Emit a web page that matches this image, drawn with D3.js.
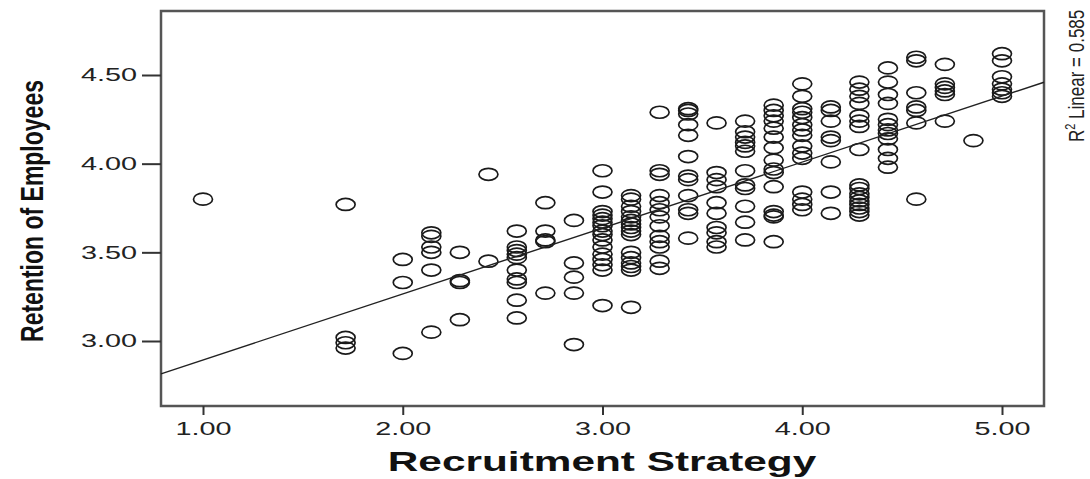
<!DOCTYPE html>
<html>
<head>
<meta charset="utf-8">
<script src="https://cdn.jsdelivr.net/npm/d3@7"></script>
<style>
    body { margin: 0; background: #fff; }
    #chart-container svg { display: block; }
</style>
</head>
<body>
<div id="chart-container"></div>
<script>
// Recruitment Strategy levels (mean of 7 items, so steps of 1/7)
var recruitmentLevels = [1.000, 1.714, 2.000, 2.143, 2.286, 2.429, 2.571, 2.714, 2.857, 3.000, 3.143, 3.286,
    3.429, 3.571, 3.714, 3.857, 4.000, 4.143, 4.286, 4.429, 4.571, 4.714, 4.857, 5.000];

// Retention of Employees values for each recruitment level
var retentionByLevel = [
    [3.80],
    [3.77, 3.02, 2.99, 2.96],
    [3.46, 3.33, 2.93],
    [3.61, 3.59, 3.53, 3.50, 3.40, 3.05],
    [3.50, 3.34, 3.33, 3.12],
    [3.94, 3.45],
    [3.62, 3.53, 3.51, 3.49, 3.47, 3.40, 3.35, 3.33, 3.23, 3.13],
    [3.78, 3.62, 3.57, 3.56, 3.27],
    [3.68, 3.44, 3.36, 3.27, 2.98],
    [3.96, 3.84, 3.73, 3.71, 3.69, 3.67, 3.65, 3.62, 3.60, 3.57, 3.53, 3.49, 3.46, 3.43, 3.40, 3.20],
    [3.82, 3.80, 3.76, 3.73, 3.70, 3.68, 3.66, 3.64, 3.62, 3.60, 3.50, 3.47, 3.44, 3.42, 3.40, 3.19],
    [4.29, 3.96, 3.94, 3.82, 3.78, 3.74, 3.70, 3.65, 3.59, 3.56, 3.53, 3.45, 3.41],
    [4.31, 4.30, 4.28, 4.22, 4.16, 4.04, 3.93, 3.91, 3.82, 3.74, 3.72, 3.58],
    [4.23, 3.95, 3.91, 3.87, 3.78, 3.72, 3.64, 3.61, 3.56, 3.53],
    [4.24, 4.18, 4.15, 4.12, 4.10, 4.07, 3.96, 3.88, 3.86, 3.76, 3.67, 3.57],
    [4.33, 4.30, 4.27, 4.24, 4.20, 4.15, 4.09, 4.02, 3.97, 3.95, 3.87, 3.73, 3.71, 3.70, 3.56],
    [4.45, 4.38, 4.31, 4.29, 4.26, 4.22, 4.19, 4.16, 4.10, 4.06, 4.03, 3.84, 3.80, 3.77, 3.74],
    [4.32, 4.30, 4.24, 4.15, 4.13, 4.01, 3.84, 3.72],
    [4.46, 4.42, 4.38, 4.34, 4.27, 4.24, 4.21, 4.08, 3.88, 3.86, 3.83, 3.81, 3.79, 3.77, 3.75, 3.73, 3.71],
    [4.54, 4.46, 4.39, 4.34, 4.25, 4.22, 4.19, 4.17, 4.14, 4.08, 4.03, 3.98],
    [4.60, 4.58, 4.40, 4.32, 4.30, 4.23, 3.80],
    [4.56, 4.45, 4.43, 4.41, 4.39, 4.24],
    [4.13],
    [4.62, 4.58, 4.49, 4.45, 4.42, 4.40, 4.38]
];

// Tick labels
var xTicks = [1, 2, 3, 4, 5];
var yTicks = [3.0, 3.5, 4.0, 4.5];

// Linear fit line as shown in the picture
var fitIntercept = 2.521;
var fitSlope = 0.372;
var rSquared = "0.585";

// Flatten into points
var points = [];
recruitmentLevels.forEach(function (lvl, i) {
    retentionByLevel[i].forEach(function (v) {
        points.push({ x: lvl, y: v });
    });
});

var width = 1090, height = 479;
var frame = { left: 161, right: 1044, top: 11, bottom: 406 };
var stretch = 1.6; // the picture is stretched sideways

var svg = d3.select("#chart-container")
    .append("svg")
    .attr("width", width)
    .attr("height", height)
    .style("font-family", "'Liberation Sans', Arial, sans-serif");

var x = d3.scaleLinear().domain([1, 5]).range([203, 1002]);
var y = d3.scaleLinear().domain([3, 4.5]).range([341, 75]);

// Plot frame
svg.append("rect")
    .attr("x", frame.left)
    .attr("y", frame.top)
    .attr("width", frame.right - frame.left)
    .attr("height", frame.bottom - frame.top)
    .attr("fill", "#fff")
    .attr("stroke", "#555")
    .attr("stroke-width", 2.5);

// x-axis
var xAxis = svg.append("g")
    .attr("transform", "translate(0," + frame.bottom + ")")
    .call(d3.axisBottom(x).tickValues(xTicks).tickSize(9).tickPadding(7).tickSizeOuter(0)
        .tickFormat(d3.format(".2f")));
xAxis.select(".domain").remove();
xAxis.selectAll("line").attr("stroke", "#333").attr("stroke-width", 2);
xAxis.selectAll("text")
    .attr("transform", "scale(" + stretch + ",1)")
    .style("font-size", "18px")
    .attr("fill", "#222");

// y-axis
var yAxis = svg.append("g")
    .attr("transform", "translate(" + frame.left + ",0)")
    .call(d3.axisLeft(y).tickValues(yTicks).tickSize(19).tickPadding(5).tickSizeOuter(0)
        .tickFormat(d3.format(".2f")));
yAxis.select(".domain").remove();
yAxis.selectAll("line").attr("stroke", "#333").attr("stroke-width", 2);
yAxis.selectAll("text")
    .attr("x", -24 / stretch)
    .attr("transform", "scale(" + stretch + ",1)")
    .style("font-size", "18px")
    .attr("fill", "#222");

// Data points (open circles, look like ellipses because of the stretch)
svg.append("g")
    .selectAll("ellipse")
    .data(points)
    .enter()
    .append("ellipse")
    .attr("cx", function (d) { return x(d.x); })
    .attr("cy", function (d) { return y(d.y); })
    .attr("rx", 9.5)
    .attr("ry", 6)
    .attr("fill", "none")
    .attr("stroke", "#1a1a1a")
    .attr("stroke-width", 1.7);

// Fit line, clipped to the frame
var x0 = x.invert(frame.left), x1 = x.invert(frame.right);
svg.append("line")
    .attr("x1", x(x0))
    .attr("y1", y(fitIntercept + fitSlope * x0))
    .attr("x2", x(x1))
    .attr("y2", y(fitIntercept + fitSlope * x1))
    .attr("stroke", "#222")
    .attr("stroke-width", 1.4);

// Axis titles
svg.append("text")
    .attr("transform", "translate(602,471) scale(1.57,1)")
    .attr("text-anchor", "middle")
    .style("font-size", "27px")
    .style("font-weight", "bold")
    .attr("fill", "#111")
    .text("Recruitment Strategy");

svg.append("text")
    .attr("transform", "translate(43,211) scale(1.37,1) rotate(-90)")
    .attr("text-anchor", "middle")
    .style("font-size", "23px")
    .style("font-weight", "bold")
    .attr("fill", "#111")
    .text("Retention of Employees");

// R squared label on the right
var r2 = svg.append("text")
    .attr("transform", "translate(1084,142) scale(1.35,1) rotate(-90)")
    .attr("text-anchor", "start")
    .style("font-size", "17px")
    .attr("fill", "#222");
r2.append("tspan").text("R");
r2.append("tspan").attr("dy", -7).style("font-size", "11px").text("2");
r2.append("tspan").attr("dy", 7).text(" Linear = " + rSquared);
</script>
</body>
</html>
